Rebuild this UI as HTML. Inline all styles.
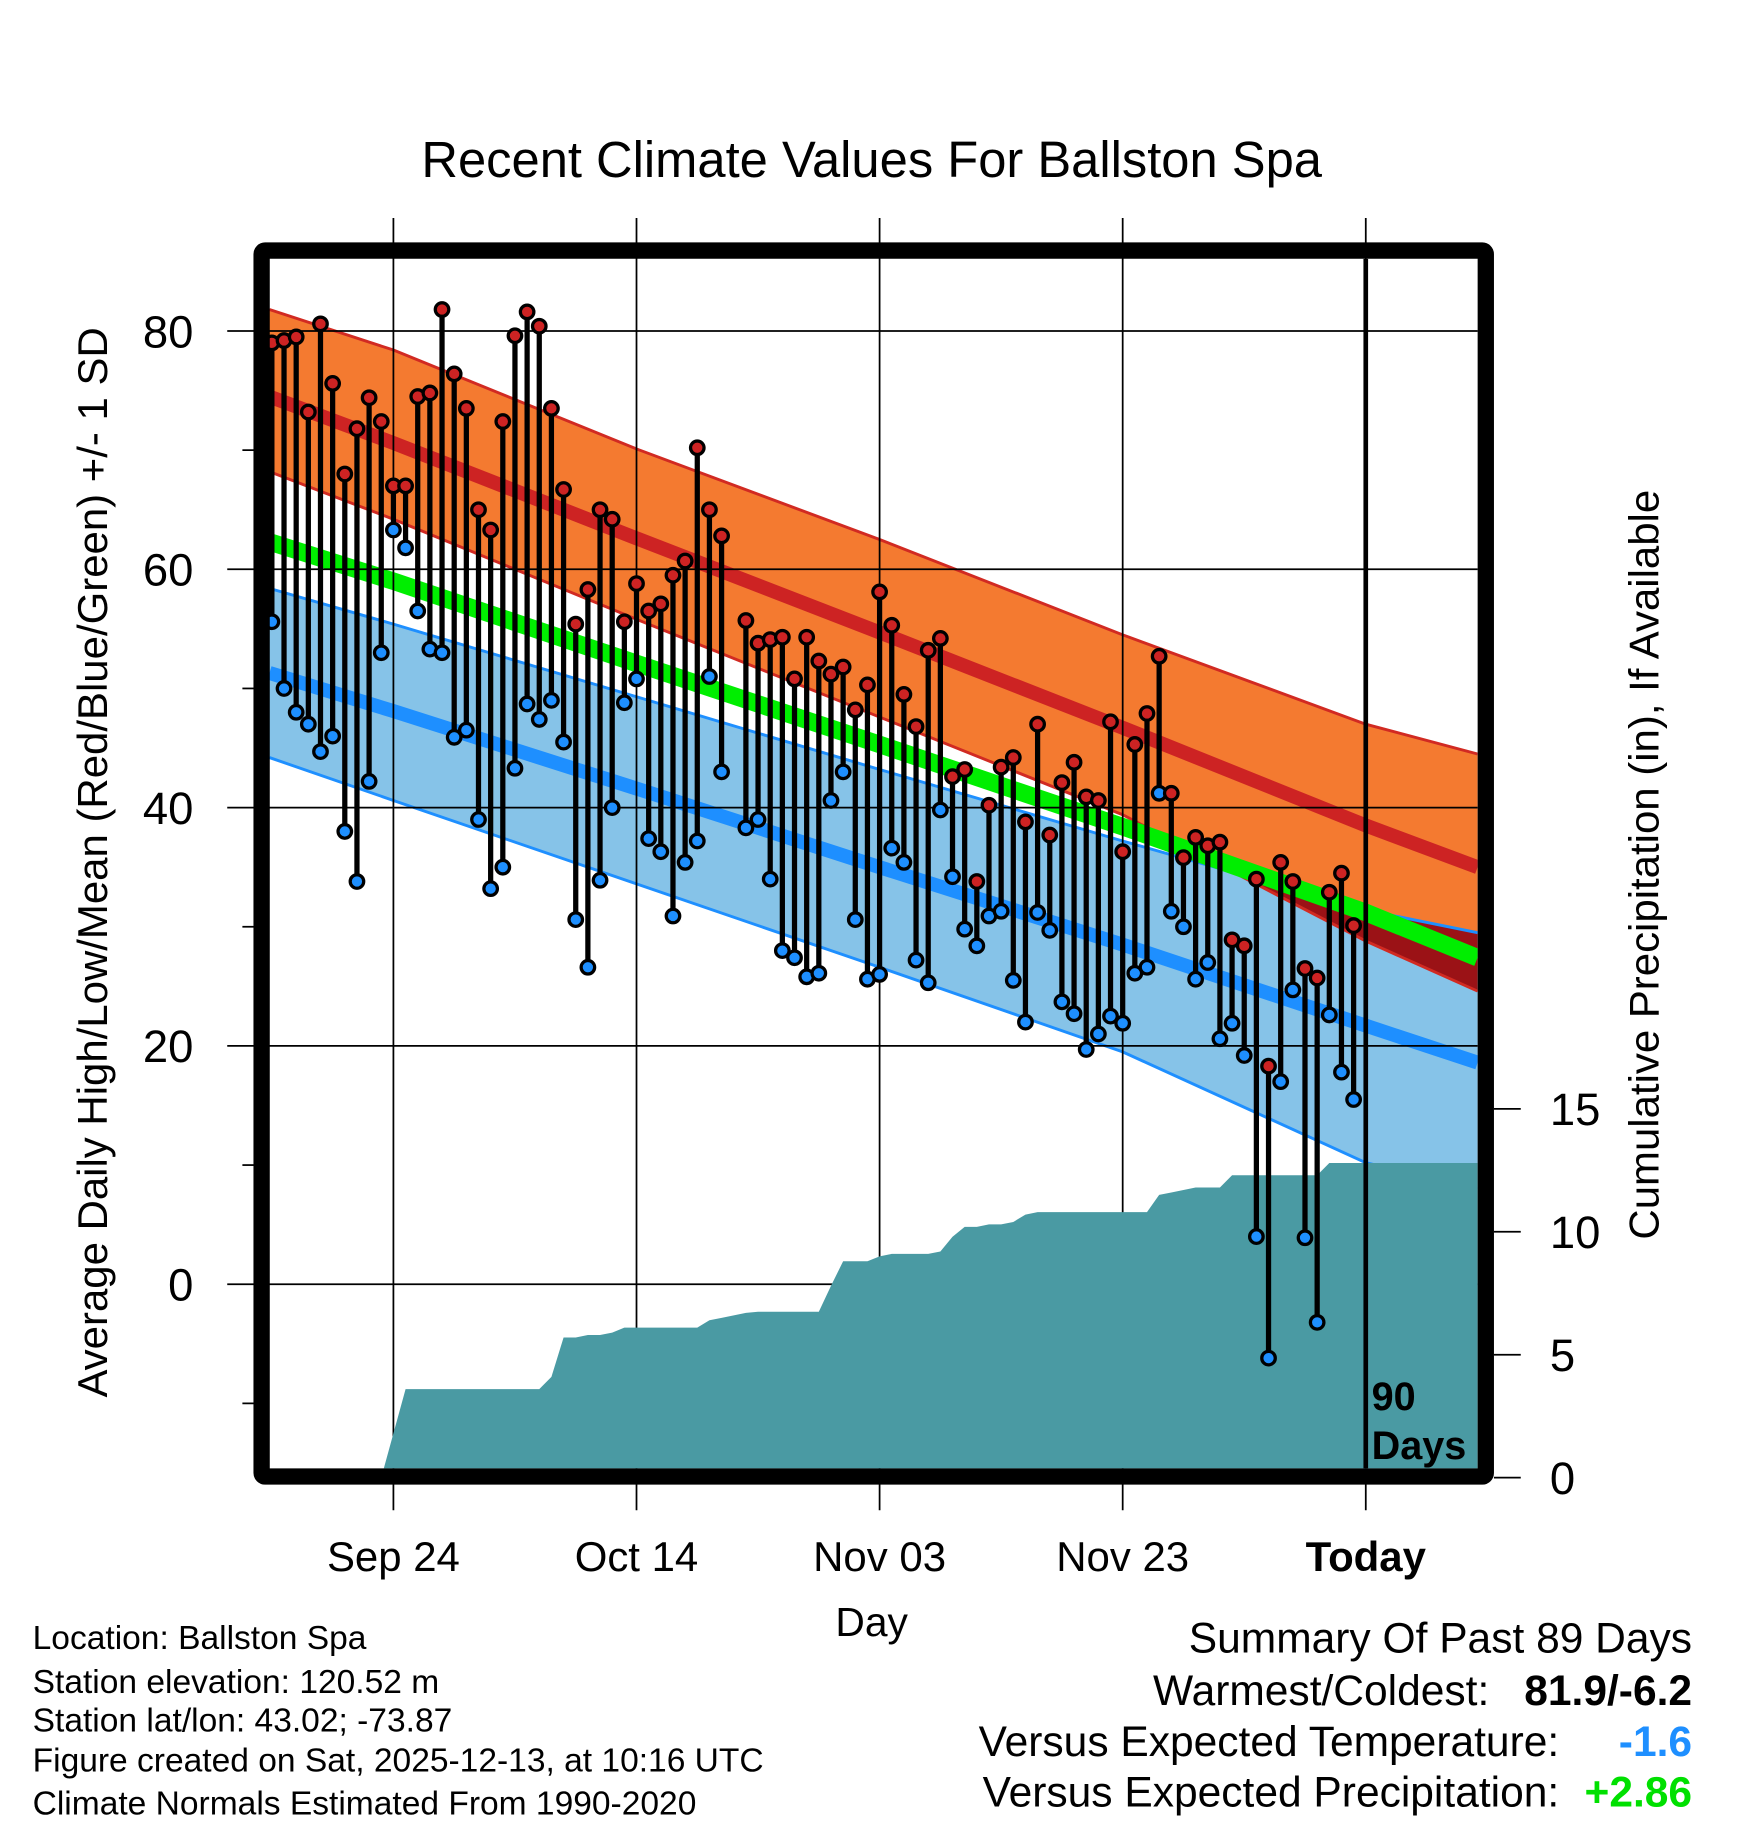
<!DOCTYPE html>
<html><head><meta charset="utf-8">
<style>
html,body{margin:0;padding:0;background:#fff;}
svg{display:block;font-family:"Liberation Sans",Arial,sans-serif;}
</style></head>
<body>
<svg id="chart" width="1748" height="1828" viewBox="0 0 1500 1568.6" xmlns="http://www.w3.org/2000/svg">
<defs><clipPath id="blueClip"><polygon id="blueClipPoly" points=""/></clipPath>
<clipPath id="plotClip"><rect x="231" y="222" width="1037" height="1038"/></clipPath></defs>
<g id="bands" clip-path="url(#plotClip)"></g>
<g id="grid"></g>
<g id="precip" clip-path="url(#plotClip)"></g>
<g id="points" clip-path="url(#plotClip)"></g>
<g id="frame"></g>
<g id="texts">
<text x="748" y="152" font-size="43.5" text-anchor="middle">Recent Climate Values For Ballston Spa</text>
<text transform="translate(92,740) rotate(-90)" font-size="36" text-anchor="middle">Average Daily High/Low/Mean (Red/Blue/Green) +/- 1 SD</text>
<text transform="translate(1423,742) rotate(-90)" font-size="36" text-anchor="middle">Cumulative Precipitation (in), If Available</text>
<text x="748" y="1404" font-size="35" text-anchor="middle">Day</text>
<text x="1177" y="1210" font-size="34" font-weight="bold">90</text>
<text x="1177" y="1252" font-size="34" font-weight="bold">Days</text>
<g font-size="28.8">
<text x="28" y="1415">Location: Ballston Spa</text>
<text x="28" y="1453">Station elevation: 120.52 m</text>
<text x="28" y="1486">Station lat/lon: 43.02; -73.87</text>
<text x="28" y="1520">Figure created on Sat, 2025-12-13, at 10:16 UTC</text>
<text x="28" y="1557">Climate Normals Estimated From 1990-2020</text>
</g>
<g font-size="36.5">
<text x="1452" y="1418" text-anchor="end">Summary Of Past 89 Days</text>
<text x="1278" y="1463" text-anchor="end">Warmest/Coldest:</text>
<text x="1452" y="1463" text-anchor="end" font-weight="bold">81.9/-6.2</text>
<text x="1338" y="1507" text-anchor="end">Versus Expected Temperature:</text>
<text x="1452" y="1507" text-anchor="end" font-weight="bold" fill="#1e8fff">-1.6</text>
<text x="1338" y="1550" text-anchor="end">Versus Expected Precipitation:</text>
<text x="1452" y="1550" text-anchor="end" font-weight="bold" fill="#00e000">+2.86</text>
</g>
</g>
</svg>
<script>
// ---- data ----
const highs=[79,79.2,79.5,73.2,80.6,75.6,68,71.8,74.4,72.4,67,67,74.5,74.8,81.8,76.4,73.5,65,63.3,72.4,79.6,81.6,80.4,73.5,66.7,55.4,58.3,65,64.2,55.6,58.8,56.5,57.1,59.5,60.7,70.2,65,62.8,null,55.7,53.8,54.1,54.3,50.8,54.3,52.3,51.2,51.8,48.2,50.3,58.1,55.3,49.5,46.8,53.2,54.2,42.6,43.2,33.8,40.2,43.4,44.2,38.8,47,37.7,42.1,43.8,40.9,40.6,47.2,36.3,45.3,47.9,52.7,41.2,35.8,37.5,36.8,37.1,28.9,28.4,34,18.3,35.4,33.8,26.5,25.7,32.9,34.5,30.1];
const lows=[55.6,50,48,47,44.7,46,38,33.8,42.2,53,63.3,61.8,56.5,53.3,53,45.9,46.5,39,33.2,35,43.3,48.7,47.4,49,45.5,30.6,26.6,33.9,40,48.8,50.8,37.4,36.3,30.9,35.4,37.2,51,43,null,38.3,39,34,28,27.4,25.8,26.1,40.6,43,30.6,25.6,26,36.6,35.4,27.2,25.3,39.8,34.2,29.8,28.4,30.9,31.3,25.5,22,31.2,29.7,23.7,22.7,19.7,21,22.5,21.9,26.1,26.6,41.2,31.3,30,25.6,27,20.6,21.9,19.2,4,-6.2,17,24.7,3.9,-3.2,22.6,17.8,15.5];
const precip=[0,0,0,0,0,0,0,0,0,0,1.8,3.6,3.6,3.6,3.6,3.6,3.6,3.6,3.6,3.6,3.6,3.6,3.6,4.1,5.7,5.7,5.8,5.8,5.9,6.1,6.1,6.1,6.1,6.1,6.1,6.1,6.4,6.5,6.6,6.7,6.75,6.75,6.75,6.75,6.75,6.75,7.8,8.8,8.8,8.8,9.0,9.1,9.1,9.1,9.1,9.2,9.8,10.2,10.2,10.3,10.3,10.4,10.7,10.8,10.8,10.8,10.8,10.8,10.8,10.8,10.8,10.8,10.8,11.5,11.6,11.7,11.8,11.8,11.8,12.3,12.3,12.3,12.3,12.3,12.3,12.3,12.3,12.8,12.8,12.8];
const normDays=[-90.2,-80,-60,-40,-20,0,9.2];
const sdHighTop=[81.8,78.4,70.1,62.5,54.5,47,44.5];
const meanHigh=[74.5,70.6,62.6,54.7,46.7,38.5,35.0];
const sdHighBot=[68.2,64.2,55.8,47.6,39.4,28.8,24.6];
const meanAll=[62.3,59.0,52.1,45.3,38.4,31.2,27.4];
const sdLowTop=[58.4,55.4,49.3,43.2,37.2,31.4,29.5];
const meanLow=[51.3,48.1,41.6,35.0,28.5,21.7,18.6];
const sdLowBot=[44.2,40.6,33.6,26.6,19.5,10.2,8.0];
const yTicks=[0,20,40,60,80];
const pTicks=[0,5,10,15];
const xDays=[-80,-60,-40,-20,0];
const xLabels=["Sep 24","Oct 14","Nov 03","Nov 23","Today"];

// ---- scales ----
const X=d=>1172+10.43*d;
const Y=v=>1102-10.225*v;
const P=v=>1268-21.1*v;
const NS="http://www.w3.org/2000/svg";
function mk(tag,attrs,parent){const e=document.createElementNS(NS,tag);for(const k in attrs)e.setAttribute(k,attrs[k]);parent.appendChild(e);return e;}
const dayOf=i=>i-90;

const bands=document.getElementById('bands');
function bandPts(top,bot){
  const a=normDays.map((d,i)=>X(d)+','+Y(top[i]));
  const b=normDays.map((d,i)=>X(d)+','+Y(bot[i])).reverse();
  return a.concat(b).join(' ');
}
function linePts(arr){return normDays.map((d,i)=>X(d)+','+Y(arr[i])).join(' ');}

let e;
e=mk('polygon',{points:bandPts(sdHighTop,sdHighBot),fill:'#f47a30'},bands);


e=mk('polygon',{points:bandPts(sdLowTop,sdLowBot),fill:'#86c3e8'},bands);


document.getElementById('blueClipPoly').setAttribute('points',bandPts(sdLowTop,sdLowBot));
e=mk('polygon',{points:bandPts(sdHighTop,sdHighBot),fill:'#9b1216','clip-path':'url(#blueClip)'},bands);


[[sdHighTop,'#d12a22',2.5,'high-sd-top'],[sdHighBot,'#d12a22',2.5,'high-sd-bottom'],[sdLowTop,'#1e8fff',2.5,'low-sd-top'],[sdLowBot,'#1e8fff',2.5,'low-sd-bottom'],[meanHigh,'#cd2323',12,'mean-high-line'],[meanLow,'#1e8fff',12,'mean-low-line'],[meanAll,'#00ee00',15,'mean-line']].forEach(([arr,c,w,n])=>{
  const l=mk('polyline',{points:linePts(arr),fill:'none',stroke:c,'stroke-width':w},bands);
  
  
});

// grid
const grid=document.getElementById('grid');
yTicks.forEach(v=>{
  const g=mk('line',{x1:195,x2:1268,y1:Y(v),y2:Y(v),stroke:'#000','stroke-width':1.5},grid);
  
  
  const t=mk('text',{x:166,y:Y(v)+14,'font-size':39,'text-anchor':'end'},grid);
  t.textContent=v;
  
  
});
[10,30,50,70,-10].forEach(v=>{mk('line',{x1:208,x2:220,y1:Y(v),y2:Y(v),stroke:'#000','stroke-width':1.5},grid);});
pTicks.forEach(v=>{
  mk('line',{x1:1282,x2:1305,y1:P(v),y2:P(v),stroke:'#000','stroke-width':1.5},grid);
  const t=mk('text',{x:1330,y:P(v)+14,'font-size':39},grid);
  t.textContent=v;
  
  
});
xDays.forEach((d,i)=>{
  const g=mk('line',{x1:X(d),x2:X(d),y1:187,y2:1296,stroke:'#000','stroke-width':1.5},grid);
  
  
  const t=mk('text',{x:X(d),y:1348,'font-size':36,'text-anchor':'middle','font-weight':d===0?'bold':'normal'},grid);
  t.textContent=xLabels[i];
  
  
});

// precip
const pg=document.getElementById('precip');
let pp=[X(-90)+','+P(0)];
precip.forEach((v,i)=>pp.push(X(dayOf(i))+','+P(v)));
pp.push('1268,'+P(precip[precip.length-1]));
pp.push('1268,'+P(0));
e=mk('polygon',{points:pp.join(' '),fill:'#4a9aa3'},pg);



// today line
e=mk('line',{x1:1172,x2:1172,y1:222,y2:1260,stroke:'#000','stroke-width':4},pg);



// points
const pts=document.getElementById('points');
highs.forEach((h,i)=>{
  const l=lows[i];
  if(h===null||l===null)return;
  const x=X(dayOf(i));
  const s=mk('line',{x1:x,x2:x,y1:Y(h),y2:Y(l),stroke:'#000','stroke-width':4.5},pts);
  
  
});
highs.forEach((h,i)=>{
  const l=lows[i];
  if(h===null||l===null)return;
  const x=X(dayOf(i));
  const c1=mk('circle',{cx:x,cy:Y(l),r:5.8,fill:'#1e8fff',stroke:'#000','stroke-width':2.8},pts);
  
  
  const c2=mk('circle',{cx:x,cy:Y(h),r:5.8,fill:'#cd2323',stroke:'#000','stroke-width':2.8},pts);
  
  
});

// frame
const fr=document.getElementById('frame');
e=mk('rect',{x:224.5,y:215,width:1050.5,height:1052,fill:'none',stroke:'#000','stroke-width':14,rx:3},fr);


</script>
</body></html>
